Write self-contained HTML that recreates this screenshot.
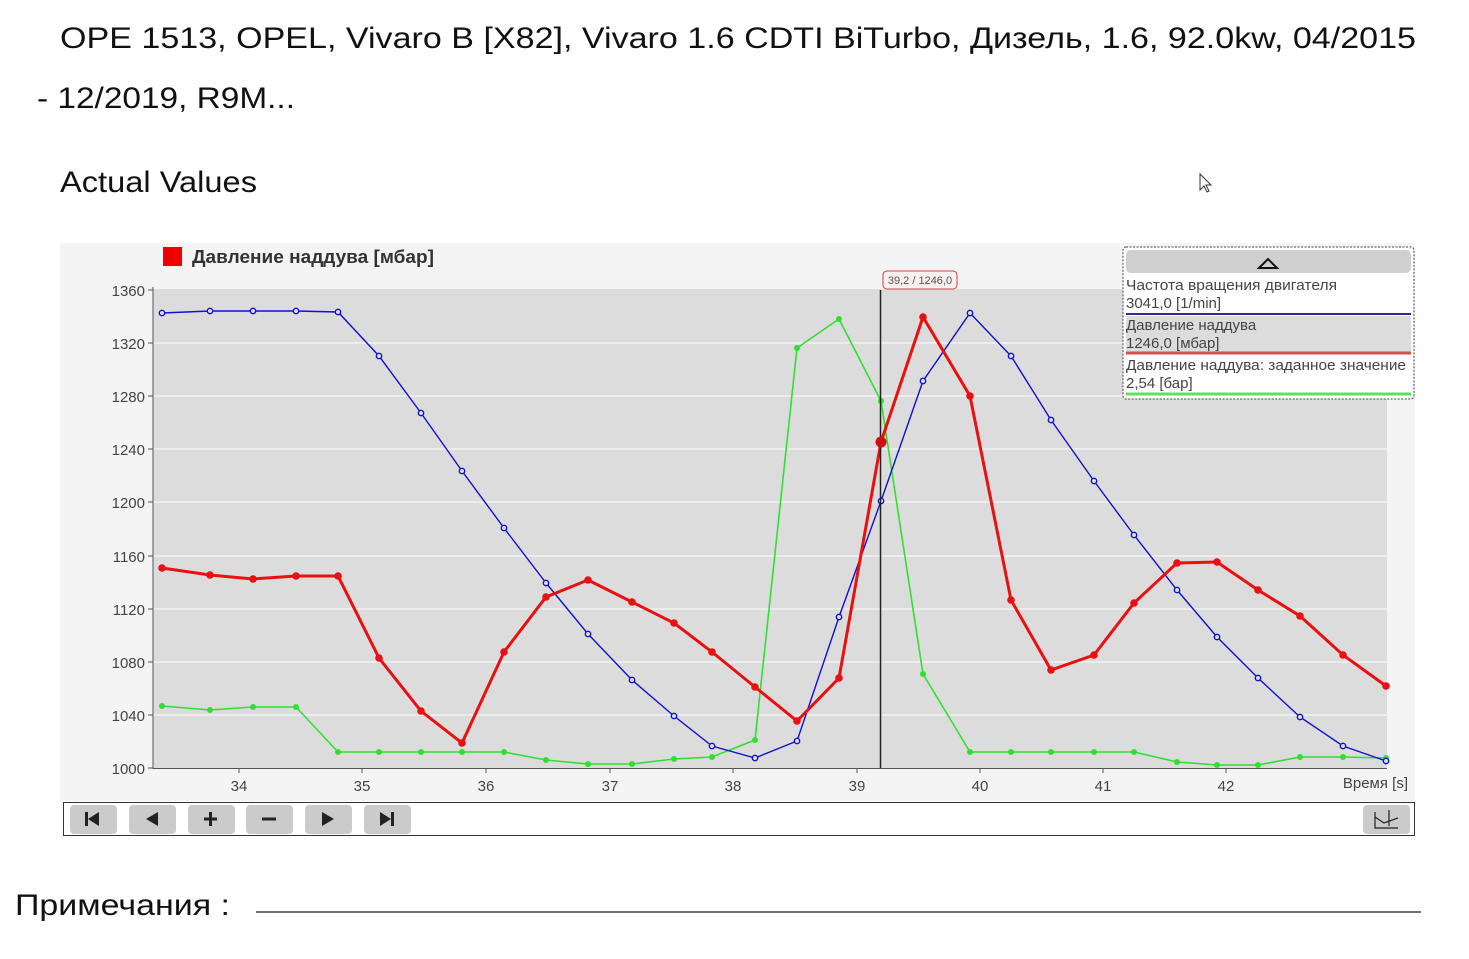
<!DOCTYPE html>
<html><head><meta charset="utf-8"><style>
html,body{margin:0;padding:0;background:#fff;width:1469px;height:959px;overflow:hidden}
svg{display:block}
text{font-family:"Liberation Sans","DejaVu Sans",sans-serif}
</style></head><body>
<svg width="1469" height="959" viewBox="0 0 1469 959" xmlns="http://www.w3.org/2000/svg">
<defs>
<marker id="mb" viewBox="-5 -5 10 10" markerWidth="10" markerHeight="10" markerUnits="userSpaceOnUse" refX="0" refY="0"><circle r="2.7" fill="#dcdcdc" stroke="#1010d0" stroke-width="1.4"/></marker>
<marker id="mr" viewBox="-5 -5 10 10" markerWidth="10" markerHeight="10" markerUnits="userSpaceOnUse" refX="0" refY="0"><circle r="3.8" fill="#e81010"/></marker>
<marker id="mg" viewBox="-5 -5 10 10" markerWidth="10" markerHeight="10" markerUnits="userSpaceOnUse" refX="0" refY="0"><circle r="3" fill="#30e030"/></marker>
</defs>
<text x="60" y="48" font-size="30" fill="#111" textLength="1356" lengthAdjust="spacingAndGlyphs">OPE 1513, OPEL, Vivaro B [X82], Vivaro 1.6 CDTI BiTurbo, Дизель, 1.6, 92.0kw, 04/2015</text>
<text x="37" y="108" font-size="30" fill="#111" textLength="258" lengthAdjust="spacingAndGlyphs">- 12/2019, R9M...</text>
<text x="60" y="192" font-size="30" fill="#111" textLength="197" lengthAdjust="spacingAndGlyphs">Actual Values</text>
<path d="M1200 174 L1200 190 L1204 186 L1207 192 L1209 191 L1206 185 L1211 185 Z" fill="#fff" stroke="#333" stroke-width="1"/>
<rect x="60" y="243" width="1355" height="558" fill="#f4f4f4"/>
<rect x="153" y="289" width="1234" height="479" fill="#dcdcdc"/>
<g stroke="#f2f2f2" stroke-width="1.5">
<line x1="153" x2="1387" y1="343" y2="343"/><line x1="153" x2="1387" y1="396" y2="396"/>
<line x1="153" x2="1387" y1="449" y2="449"/><line x1="153" x2="1387" y1="502" y2="502"/>
<line x1="153" x2="1387" y1="556" y2="556"/><line x1="153" x2="1387" y1="609" y2="609"/>
<line x1="153" x2="1387" y1="662" y2="662"/><line x1="153" x2="1387" y1="715" y2="715"/>
</g>
<line x1="153" y1="287" x2="153" y2="769" stroke="#555" stroke-width="1"/>
<line x1="153" y1="768.5" x2="1387" y2="768.5" stroke="#555" stroke-width="1"/>
<g stroke="#555" stroke-width="1">
<line x1="148" x2="153" y1="290" y2="290"/><line x1="148" x2="153" y1="343" y2="343"/><line x1="148" x2="153" y1="396" y2="396"/><line x1="148" x2="153" y1="449" y2="449"/><line x1="148" x2="153" y1="502" y2="502"/><line x1="148" x2="153" y1="556" y2="556"/><line x1="148" x2="153" y1="609" y2="609"/><line x1="148" x2="153" y1="662" y2="662"/><line x1="148" x2="153" y1="715" y2="715"/><line x1="148" x2="153" y1="768" y2="768"/>
<line x1="239" x2="239" y1="768" y2="773"/><line x1="362" x2="362" y1="768" y2="773"/><line x1="486" x2="486" y1="768" y2="773"/><line x1="610" x2="610" y1="768" y2="773"/><line x1="733" x2="733" y1="768" y2="773"/><line x1="857" x2="857" y1="768" y2="773"/><line x1="980" x2="980" y1="768" y2="773"/><line x1="1103" x2="1103" y1="768" y2="773"/><line x1="1226" x2="1226" y1="768" y2="773"/>
</g>
<g font-size="15" fill="#444" text-anchor="end">
<text x="145" y="296">1360</text><text x="145" y="349">1320</text><text x="145" y="402">1280</text><text x="145" y="455">1240</text><text x="145" y="508">1200</text><text x="145" y="562">1160</text><text x="145" y="615">1120</text><text x="145" y="668">1080</text><text x="145" y="721">1040</text><text x="145" y="774">1000</text>
</g>
<g font-size="15" fill="#444" text-anchor="middle">
<text x="239" y="791">34</text><text x="362" y="791">35</text><text x="486" y="791">36</text><text x="610" y="791">37</text><text x="733" y="791">38</text><text x="857" y="791">39</text><text x="980" y="791">40</text><text x="1103" y="791">41</text><text x="1226" y="791">42</text>
</g>
<text x="1408" y="788" font-size="15" fill="#444" text-anchor="end">Время [s]</text>
<rect x="163" y="247" width="19" height="19" fill="#f00000"/>
<text x="192" y="263" font-size="18" font-weight="bold" fill="#333" textLength="242" lengthAdjust="spacingAndGlyphs">Давление наддува [мбар]</text>
<polyline fill="none" stroke="#30e030" stroke-width="1.6" marker-start="url(#mg)" marker-mid="url(#mg)" marker-end="url(#mg)" points="162,706 210,710 253,707 296,707 338,752 379,752 421,752 462,752 504,752 546,760 588,764 632,764 674,759 712,757 755,740 797,348 839,319 881,401 923,674 970,752 1011,752 1051,752 1094,752 1134,752 1177,762 1217,765 1258,765 1300,757 1343,757 1386,758"/>
<polyline fill="none" stroke="#1010d0" stroke-width="1.4" marker-start="url(#mb)" marker-mid="url(#mb)" marker-end="url(#mb)" points="162,313 210,311 253,311 296,311 338,312 379,356 421,413 462,471 504,528 546,583 588,634 632,680 674,716 712,746 755,758 797,741 839,617 881,501 923,381 970,313 1011,356 1051,420 1094,481 1134,535 1177,590 1217,637 1258,678 1300,717 1343,746 1386,761"/>
<polyline fill="none" stroke="#e81010" stroke-width="3" marker-start="url(#mr)" marker-mid="url(#mr)" marker-end="url(#mr)" points="162,568 210,575 253,579 296,576 338,576 379,658 421,711 462,743 504,652 546,597 588,580 632,602 674,623 712,652 755,687 797,721 839,678 881,442 923,317 970,396 1011,600 1051,670 1094,655 1134,603 1177,563 1217,562 1258,590 1300,616 1343,655 1386,686"/>
<line x1="880.5" y1="290" x2="880.5" y2="768" stroke="#222" stroke-width="1.5"/>
<circle cx="881" cy="442" r="5.5" fill="#d01010"/>
<rect x="883" y="271" width="74" height="18" rx="4" fill="#f8f0f0" stroke="#d04040" stroke-width="1"/>
<text x="920" y="284" font-size="11" fill="#555" text-anchor="middle">39,2 / 1246,0</text>
<rect x="1123" y="247" width="291" height="152" rx="3" fill="#fff" stroke="#444" stroke-width="1" stroke-dasharray="2,1.5"/>
<rect x="1126" y="250" width="285" height="23" rx="5" fill="#cfcfcf"/>
<path d="M1259 268 L1268 259 L1277 268 Z" fill="none" stroke="#111" stroke-width="2"/>
<rect x="1126" y="316" width="285" height="38" fill="#dcdcdc"/>
<g font-size="15" fill="#444">
<text x="1126" y="290" textLength="211" lengthAdjust="spacingAndGlyphs">Частота вращения двигателя</text><text x="1126" y="308">3041,0 [1/min]</text>
<text x="1126" y="330">Давление наддува</text><text x="1126" y="348">1246,0 [мбар]</text>
<text x="1126" y="370" textLength="280" lengthAdjust="spacingAndGlyphs">Давление наддува: заданное значение</text><text x="1126" y="388">2,54 [бар]</text>
</g>
<line x1="1126" x2="1411" y1="314" y2="314" stroke="#2a2aa0" stroke-width="2"/>
<line x1="1126" x2="1411" y1="353" y2="353" stroke="#d05050" stroke-width="3"/>
<line x1="1126" x2="1411" y1="394" y2="394" stroke="#60e060" stroke-width="3"/>
<rect x="63.5" y="802.5" width="1351" height="33" fill="#fff" stroke="#333" stroke-width="1"/>
<g fill="#cbcbcb">
<rect x="70" y="805" width="47" height="29" rx="4"/><rect x="129" y="805" width="47" height="29" rx="4"/><rect x="188" y="805" width="47" height="29" rx="4"/><rect x="246" y="805" width="47" height="29" rx="4"/><rect x="305" y="805" width="47" height="29" rx="4"/><rect x="364" y="805" width="47" height="29" rx="4"/><rect x="1363" y="805" width="47" height="29" rx="4"/>
</g>
<g fill="#222">
<rect x="85" y="812" width="3" height="14"/><path d="M88 819 L99 812 L99 826 Z"/>
<path d="M146 819 L158 812 L158 826 Z"/>
<rect x="204" y="817.5" width="13" height="3"/><rect x="209" y="812" width="3" height="14"/>
<rect x="262" y="817.5" width="14" height="3"/>
<path d="M334 819 L322 812 L322 826 Z"/>
<path d="M391 819 L380 812 L380 826 Z"/><rect x="391" y="812" width="3" height="14"/>
</g>
<path d="M1375 812 L1375 828 L1398 828 M1375 817 L1384 823 L1398 818 M1389 810 L1389 826" fill="none" stroke="#222" stroke-width="1.2"/>
<text x="15" y="915" font-size="30" fill="#111" textLength="215" lengthAdjust="spacingAndGlyphs">Примечания :</text>
<line x1="256" y1="912" x2="1421" y2="912" stroke="#444" stroke-width="1.5"/>
</svg>
</body></html>
